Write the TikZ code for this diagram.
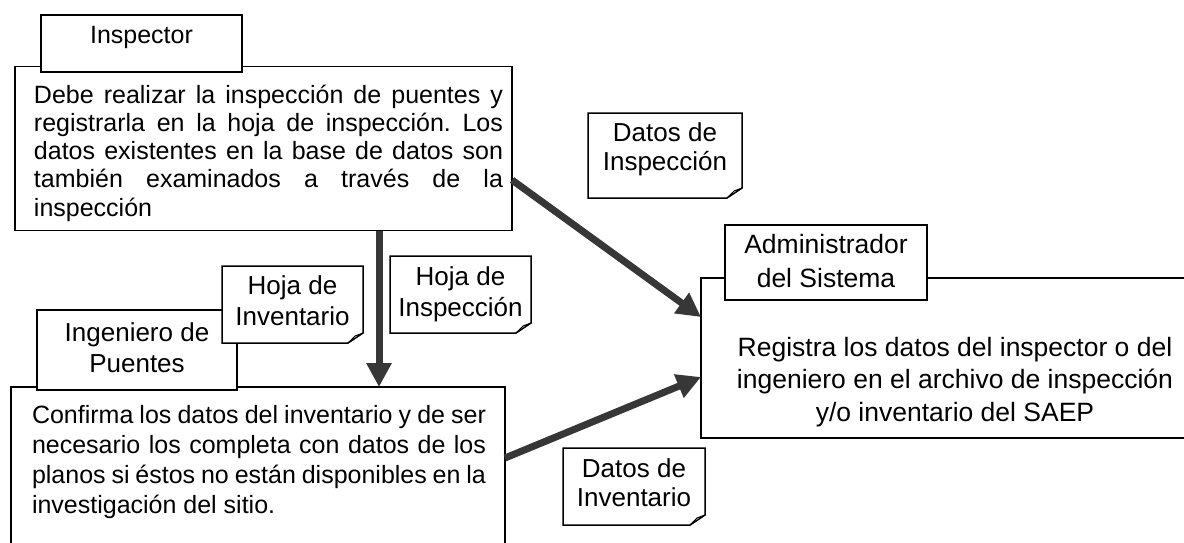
\documentclass[tikz,border=0pt]{standalone}
\usepackage{fontspec}
\setmainfont{Liberation Sans}
\frenchspacing
\usetikzlibrary{arrows.meta,calc}
\definecolor{arrowgray}{RGB}{55,55,55}
\definecolor{foldgray}{RGB}{205,205,205}
\newcommand\fsz[2]{\fontsize{#1}{#2}\selectfont}
\tikzset{
  box/.style={draw=black, line width=1.5pt, fill=white, rectangle, inner sep=0pt, outer sep=0pt},
  tabbox/.style={box},
  noteshape/.style={rectangle, inner sep=0pt, outer sep=0pt},
  noteline/.style={draw=black, line width=1.5pt, fill=white, line join=miter},
  fold/.style={draw=black, line width=1pt, fill=foldgray, line join=round},
  flow/.style={draw=arrowgray, line width=7pt, -{Triangle[length=24pt,width=24pt]}},
  txt/.style={inner sep=0pt, outer sep=0pt, anchor=base},
  para/.style={inner sep=0pt, outer sep=0pt, anchor=base west},
}
\newcommand\noteframe[1]{%
  \draw[noteline] (#1.north west) -- (#1.north east) -- ([yshift=10pt]#1.south east)
     -- ([xshift=-15pt]#1.south east) -- (#1.south west) -- cycle;
  \draw[fold] ([yshift=10pt]#1.south east) -- ([xshift=-8pt,yshift=7pt]#1.south east)
     -- ([xshift=-15pt]#1.south east) -- cycle;}
\begin{document}
\begin{tikzpicture}[x=1pt,y=-1pt]
\useasboundingbox (0,0) rectangle (1184,542);
\fill[white] (0,0) rectangle (1184,542);
\clip (0,0) rectangle (1184,542);

% Inspector
\node[box, minimum width=497pt, minimum height=164pt] (inspBox) at (263.5,148.5) {};
\node[tabbox, minimum width=201pt, minimum height=57pt] (inspTab) at (141.5,43.5) {};
\node[txt, font=\fsz{25}{29}] (tInsp) at (141.5,43) {Inspector};
\node[para] (tInspBody) at (34,103) {\parbox[t]{469pt}{\fsz{25}{28.3}Debe realizar la inspección de puentes y\linebreak
registrarla en la hoja de inspección. Los\linebreak
datos existentes en la base de datos son\linebreak
también examinados a través de la\linebreak
inspección}};

% Ingeniero de Puentes
\node[box, minimum width=494pt, minimum height=213pt] (ingBox) at (258,493.5) {};
\node[tabbox, minimum width=200pt, minimum height=80pt] (ingTab) at (137,350) {};
\node[txt, font=\fsz{26}{31}] (tIng) at (137,341) {\begin{tabular}[t]{@{}c@{}}Ingeniero de\\Puentes\end{tabular}};
\node[para] (tIngBody) at (32,423) {\parbox[t]{454pt}{\fsz{25}{30}Confirma los datos del inventario y de ser\linebreak
necesario los completa con datos de los\linebreak
planos si éstos no están disponibles en la\linebreak
investigación del sitio.}};

% Administrador del Sistema
\node[box, minimum width=509pt, minimum height=160pt] (admBox) at (955.5,358) {};
\node[tabbox, minimum width=202pt, minimum height=75pt] (admTab) at (826,262.5) {};
\node[txt, font=\fsz{26.5}{34}] (tAdm) at (826,253) {\begin{tabular}[t]{@{}c@{}}Administrador\\del Sistema\end{tabular}};
\node[txt, font=\fsz{26.5}{32.5}] (tAdmBody) at (955,356) {\begin{tabular}[t]{@{}c@{}}Registra los datos del inspector o del\\ingeniero en el archivo de inspección\\y/o inventario del SAEP\end{tabular}};

% Notes
\node[noteshape, minimum width=154pt, minimum height=85pt] (nDI) at (665,155.5) {};
\noteframe{nDI}
\node[txt, font=\fsz{26}{29}] (tDI) at (665,141) {\begin{tabular}[t]{@{}c@{}}Datos de\\Inspección\end{tabular}};

\node[noteshape, minimum width=141pt, minimum height=77pt] (nHInv) at (292.5,304.5) {};
\noteframe{nHInv}
\node[txt, font=\fsz{26}{31}] (tHInv) at (292.5,294) {\begin{tabular}[t]{@{}c@{}}Hoja de\\Inventario\end{tabular}};

\node[noteshape, minimum width=141pt, minimum height=77pt] (nHIns) at (460.5,294.5) {};
\noteframe{nHIns}
\node[txt, font=\fsz{26}{31}] (tHIns) at (460.5,285) {\begin{tabular}[t]{@{}c@{}}Hoja de\\Inspección\end{tabular}};

\node[noteshape, minimum width=142pt, minimum height=77pt] (nDInv) at (634,486.5) {};
\noteframe{nDInv}
\node[txt, font=\fsz{26}{29}] (tDInv) at (634,477) {\begin{tabular}[t]{@{}c@{}}Datos de\\Inventario\end{tabular}};

% Connectors
\draw[flow] ([xshift=115.5pt]inspBox.south) -- ([xshift=121pt]ingBox.north);
\draw[flow] ([yshift=-31.5pt]inspBox.east) -- ([yshift=41pt]admBox.west);
\draw[flow] ([yshift=35.5pt]ingBox.east) -- ([yshift=-19pt]admBox.west);
\end{tikzpicture}
\end{document}
